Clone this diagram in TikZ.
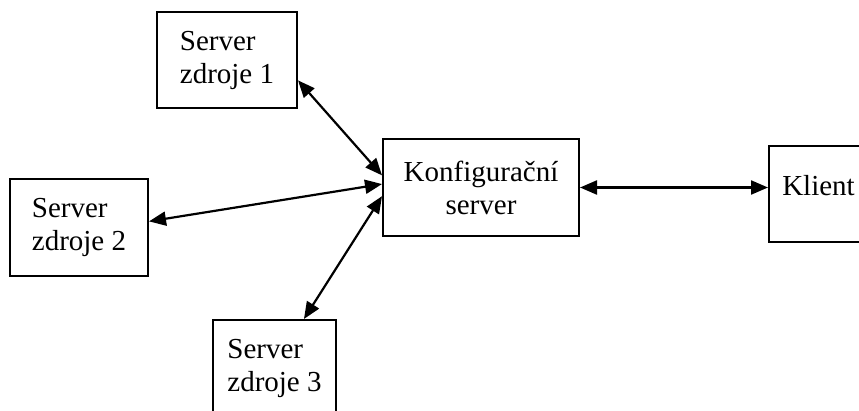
\documentclass[tikz,border=0pt]{standalone}
\usepackage{fontspec}
\setmainfont{Liberation Serif}
\usetikzlibrary{arrows.meta}
\tikzset{
  box/.style={draw, line width=2pt, inner sep=0pt, align=left,
    font=\fontsize{29}{33}\selectfont},
  link/.style={line width=2.2pt,
    {Triangle[length=17pt,width=14pt]}-{Triangle[length=17pt,width=14pt]}},
}
\begin{document}
\begin{tikzpicture}[x=1pt,y=-1pt]
    \clip (0,0) rectangle (859,410);

    % zdroje
    \node[box, minimum width=140, minimum height=96] (zdroj1) at (227,60) {Server\\zdroje 1};
    \node[box, minimum width=138, minimum height=97] (zdroj2) at (79,227.5) {Server\\zdroje 2};
    \node[box, minimum width=123, minimum height=96] (zdroj3) at (274.5,368) {Server\\zdroje 3};

    % konfiguracni server a klient
    \node[box, align=center, minimum width=196, minimum height=97] (konfig) at (481,187.5) {Konfigurační\\server};
    \node[box, minimum width=99, minimum height=96, text height=20pt, text depth=18pt] (klient) at (818.5,194) {Klient};

    % spojeni
    \draw[link] (zdroj1.-16) -- (konfig.173.9);
    \draw[link] (zdroj2.5.4) -- (konfig.178.5);
    \draw[link] (zdroj3.59.3) -- (konfig.185.5);
    \draw[link] (konfig.east) -- (konfig.east -| klient.west);
\end{tikzpicture}
\end{document}
